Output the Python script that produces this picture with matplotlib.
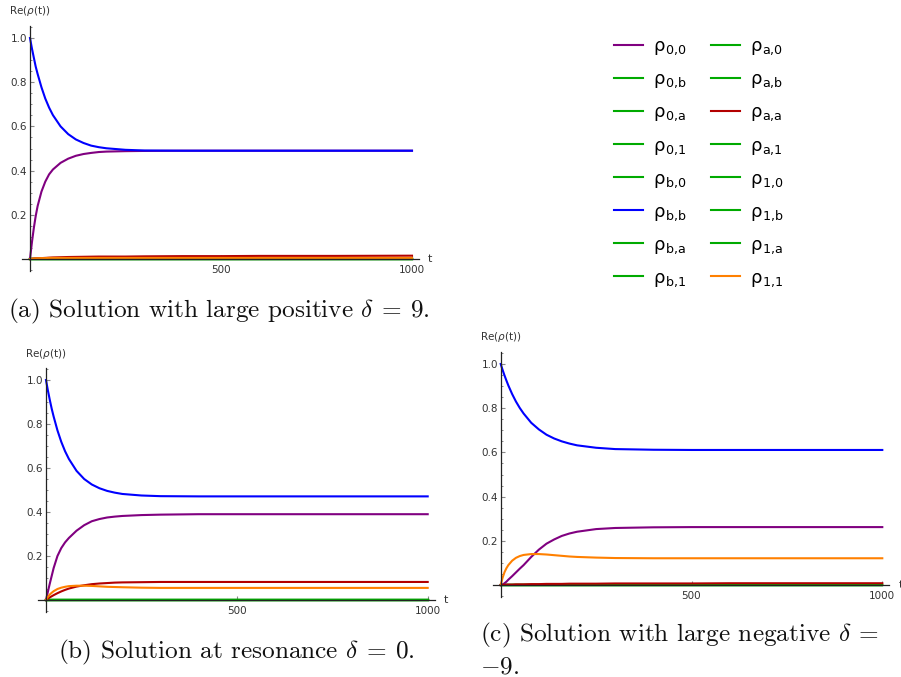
import matplotlib
matplotlib.use("Agg")
import matplotlib.pyplot as plt

plt.rcParams['mathtext.fontset'] = 'cm'

W, H = 901, 677

# time samples shared by all three runs
t = [0, 5, 10, 15, 20, 30, 40, 50, 60, 80, 100, 120, 140, 160, 180, 200,
     250, 300, 400, 500, 600, 800, 1000]

labels = ["0,0", "0,b", "0,a", "0,1", "b,0", "b,b", "b,a", "b,1",
          "a,0", "a,b", "a,a", "a,1", "1,0", "1,b", "1,a", "1,1"]

# (a) delta = 9
rho00_a = [0, 0.075, 0.140, 0.195, 0.240, 0.305, 0.350, 0.383, 0.405, 0.435, 0.454, 0.467,
           0.475, 0.480, 0.484, 0.486, 0.488, 0.489, 0.490, 0.490, 0.490, 0.490, 0.490]
rhobb_a = [1.0, 0.953, 0.911, 0.870, 0.837, 0.777, 0.726, 0.685, 0.651, 0.600, 0.565, 0.541,
           0.525, 0.513, 0.506, 0.501, 0.494, 0.491, 0.490, 0.490, 0.490, 0.490, 0.490]
rhoaa_a = [0, 0.001, 0.002, 0.003, 0.003, 0.004, 0.005, 0.006, 0.007, 0.008, 0.009, 0.0095,
           0.010, 0.0105, 0.011, 0.011, 0.011, 0.012, 0.013, 0.013, 0.014, 0.014, 0.015]
rho11_a = [0, 0.001, 0.002, 0.003, 0.003, 0.004, 0.004, 0.005, 0.005, 0.005, 0.005, 0.005,
           0.005, 0.005, 0.005, 0.005, 0.005, 0.005, 0.005, 0.005, 0.005, 0.005, 0.005]

# (b) delta = 0
rho00_b = [0, 0.038, 0.075, 0.110, 0.145, 0.200, 0.236, 0.262, 0.282, 0.315, 0.340, 0.358,
           0.368, 0.375, 0.379, 0.382, 0.386, 0.388, 0.390, 0.390, 0.390, 0.390, 0.390]
rhobb_b = [1.0, 0.952, 0.909, 0.869, 0.834, 0.771, 0.719, 0.676, 0.641, 0.587, 0.550, 0.525,
           0.508, 0.496, 0.488, 0.482, 0.475, 0.472, 0.471, 0.471, 0.471, 0.471, 0.471]
rhoaa_b = [0, 0.006, 0.012, 0.017, 0.022, 0.031, 0.039, 0.046, 0.052, 0.061, 0.067, 0.072,
           0.075, 0.077, 0.079, 0.080, 0.081, 0.082, 0.082, 0.082, 0.082, 0.082, 0.082]
rho11_b = [0, 0.014, 0.025, 0.033, 0.040, 0.050, 0.056, 0.060, 0.063, 0.065, 0.065, 0.064,
           0.062, 0.060, 0.059, 0.058, 0.056, 0.055, 0.055, 0.055, 0.055, 0.055, 0.055]

# (c) delta = -9
rho00_c = [0, 0.002, 0.008, 0.015, 0.024, 0.040, 0.057, 0.074, 0.090, 0.127, 0.160, 0.187,
           0.206, 0.222, 0.233, 0.241, 0.253, 0.258, 0.261, 0.262, 0.262, 0.262, 0.262]
rhobb_c = [1.0, 0.973, 0.948, 0.925, 0.903, 0.864, 0.830, 0.801, 0.776, 0.734, 0.704, 0.680,
           0.663, 0.650, 0.640, 0.632, 0.621, 0.615, 0.612, 0.611, 0.611, 0.611, 0.611]
rhoaa_c = [0, 0.001, 0.001, 0.002, 0.002, 0.002, 0.003, 0.003, 0.003, 0.004, 0.004, 0.005,
           0.005, 0.005, 0.006, 0.006, 0.006, 0.007, 0.007, 0.007, 0.008, 0.008, 0.008]
rho11_c = [0, 0.033, 0.058, 0.076, 0.090, 0.110, 0.123, 0.131, 0.136, 0.140, 0.140, 0.138,
           0.135, 0.132, 0.129, 0.127, 0.124, 0.122, 0.121, 0.121, 0.121, 0.121, 0.121]

# off-diagonal elements have zero real part
zero = [0.0] * len(t)

colors = {"0,0": "#800080", "b,b": "#0000ff", "a,a": "#b30000", "1,1": "#ff8000"}
green = "#00aa00"

fig = plt.figure(figsize=(W / 100, H / 100), dpi=100)


def make_axes(x0, y0, sx, sy):
    # x0, y0: pixel position of the origin; sx, sy: pixels per data unit
    xl, xr, yb, yt = -25, 1025, -0.06, 1.06
    ax = fig.add_axes([(x0 + xl * sx) / W, 1 - (y0 - yb * sy) / H,
                       (xr - xl) * sx / W, (yt - yb) * sy / H])
    ax.set_xlim(xl, xr)
    ax.set_ylim(yb, yt)
    for s in ["top", "right"]:
        ax.spines[s].set_visible(False)
    ax.spines["left"].set_position(("data", 0))
    ax.spines["bottom"].set_position(("data", 0))
    ax.spines["left"].set_bounds(-0.053, 1.055)
    ax.spines["bottom"].set_bounds(-20, 1018)
    for s in ["left", "bottom"]:
        ax.spines[s].set_color("#222222")
        ax.spines[s].set_linewidth(0.9)
        ax.spines[s].set_zorder(4)
    ax.set_yticks([0.2, 0.4, 0.6, 0.8, 1.0])
    ax.set_yticklabels(["0.2", "0.4", "0.6", "0.8", "1.0"])
    ax.set_yticks([k * 0.05 for k in range(-1, 22) if k % 4 != 0], minor=True)
    ax.set_xticks([500, 1000])
    ax.set_xticklabels(["500", "1000"])
    ax.tick_params(axis="y", which="major", direction="in", length=3.2, width=0.8,
                   color="#888888", labelsize=7.5, labelcolor="#333333", pad=2)
    ax.tick_params(axis="y", which="minor", direction="in", length=1.6, width=0.7,
                   color="#888888")
    ax.tick_params(axis="x", which="major", direction="in", length=3, width=0.8,
                   color="#888888", labelsize=7.5, labelcolor="#333333", pad=4)
    ax.text(1042, 0, "t", fontsize=8, color="#333333", ha="left", va="center")
    ax.text(0, 1.12, r"Re($\rho$(t))", fontsize=7.5, color="#333333",
            ha="center", va="center", math_fontfamily="dejavusans")
    return ax


def draw(ax, r00, rbb, raa, r11):
    series = {"0,0": r00, "b,b": rbb, "a,a": raa, "1,1": r11}
    handles = []
    for lab in labels:
        if lab in series:
            h, = ax.plot(t, series[lab], color=colors[lab], lw=1.5, zorder=3)
        else:
            h, = ax.plot(t, zero, color=green, lw=1.5, zorder=2)
        handles.append(h)
    return handles


ax_a = make_axes(30, 259, 0.382, 221)
handles = draw(ax_a, rho00_a, rhobb_a, rhoaa_a, rho11_a)
ax_b = make_axes(46, 600, 0.3817, 220)
draw(ax_b, rho00_b, rhobb_b, rhoaa_b, rho11_b)
ax_c = make_axes(500.7, 585, 0.3816, 221)
draw(ax_c, rho00_c, rhobb_c, rhoaa_c, rho11_c)

leg_labels = ["ρ$_\\mathregular{%s}$" % s.replace(",", "{,}") for s in labels]
leg = fig.legend(handles, leg_labels, ncol=2,
                 loc="upper left", bbox_to_anchor=(598 / W, 1 - 21 / H),
                 frameon=False, fontsize=13, handlelength=1.6, handletextpad=0.55,
                 columnspacing=1.35, labelspacing=0.72)

cap = dict(family="cmr10", fontsize=18.2, color="#111111", va="baseline")
fig.text(219 / W, 1 - 317 / H, r"(a) Solution with large positive $\delta\:=\:9$.",
         ha="center", **cap)
fig.text(236 / W, 1 - 658 / H, r"(b) Solution at resonance $\delta\:=\:0$.",
         ha="center", **cap)
fig.text(480 / W, 1 - 641 / H, r"(c) Solution with large negative $\delta\:=$",
         ha="left", **cap)
fig.text(480 / W, 1 - 673 / H, r"$-9$.", ha="left", **cap)

fig.savefig("out.png", dpi=100)
